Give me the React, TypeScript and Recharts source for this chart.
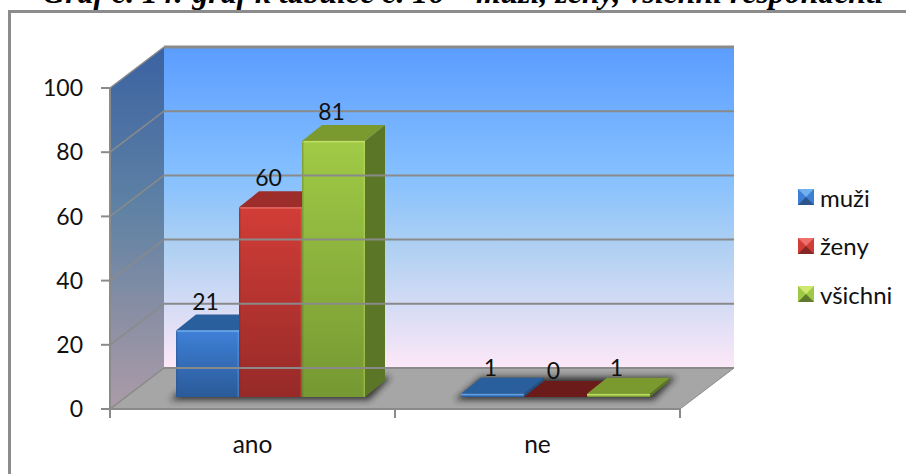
import { Bar, BarChart, LabelList, Legend, ReferenceArea, ReferenceLine, XAxis, YAxis } from "recharts";

const categories = ["ano", "ne"];
const muzi = [21, 1];
const zeny = [60, 0];
const vsichni = [81, 1];
const yTicks = [0, 20, 40, 60, 80, 100];

const data = categories.map((name, i) => ({ name, muzi: muzi[i], zeny: zeny[i], vsichni: vsichni[i] }));

const FONT = "Lato, sans-serif";
const LINE = "#8a8a8a";

// wall offset of the fake 3d box
const WALL_DX = 54;
const WALL_DY = 41;
// bars sit a bit inside the box
const BAR_DX = 18;
const BAR_DY = 12;
const DEPTH_DX = 20;
const DEPTH_DY = 16;

const palette: Record<string, { light: string; front: string; top: string; side: string; dark: string; grad: string }> = {
  muzi: { light: "#6fb0ee", front: "#3d7fd6", top: "#2a5f9e", side: "#234f85", dark: "#2c558c", grad: "gMuzi" },
  zeny: { light: "#ef6f6a", front: "#d03c36", top: "#9c2d2a", side: "#7c2321", dark: "#852825", grad: "gZeny" },
  vsichni: { light: "#cfe870", front: "#9fc845", top: "#7a9a30", side: "#5a7626", dark: "#5f7a2c", grad: "gVsichni" },
};

function Bar3D(props: any) {
  const { x, y, width, height, dataKey, value } = props;
  const c = palette[dataKey];
  const h = height * 0.985;
  const left = x + BAR_DX;
  const bottom = y + height - BAR_DY;
  const top = bottom - h;
  const right = left + width;
  const flat = value === 0;
  return (
    <g>
      <path
        d={`M${right},${bottom}L${right + DEPTH_DX},${bottom - DEPTH_DY}L${right + DEPTH_DX},${top - DEPTH_DY}L${right},${top}Z`}
        fill={c.side}
      />
      <path
        d={`M${left},${top}L${left + DEPTH_DX},${top - DEPTH_DY}L${right + DEPTH_DX},${top - DEPTH_DY}L${right},${top}Z`}
        fill={flat ? "#6b1c1a" : c.top}
      />
      {!flat && <rect x={left} y={top} width={width} height={h} rx={1} fill={`url(#${c.grad})`} />}
      {!flat && <rect x={left} y={top} width={width} height={1.5} fill={c.light} opacity={0.7} />}
      {!flat && h > 10 && <rect x={left} y={top} width={1.5} height={h} fill={c.dark} opacity={0.45} />}
      {!flat && h > 10 && <rect x={right - 1.5} y={top} width={1.5} height={h} fill={c.light} opacity={0.35} />}
    </g>
  );
}

function BarLabel(props: any) {
  const { x, y, width, height, value } = props;
  const bottom = y + height - BAR_DY;
  const top = bottom - height * 0.985;
  const small = value < 5;
  return (
    <text
      x={x + BAR_DX + width / 2 - 2}
      y={top - (small ? 27 : 30)}
      textAnchor="middle"
      dominantBaseline="central"
      fontFamily={FONT}
      fontSize={23}
      fill="#111"
    >
      {value}
    </text>
  );
}

function Walls(props: any) {
  const { x, y, width, height } = props;
  const r = x + width;
  const b = y + height;
  return (
    <g>
      <path d={`M${x},${y}L${x + WALL_DX},${y - WALL_DY}L${x + WALL_DX},${b - WALL_DY}L${x},${b}Z`} fill="url(#gLeftWall)" />
      <rect x={x + WALL_DX} y={y - WALL_DY} width={width} height={height} fill="url(#gBackWall)" />
      <path d={`M${x},${b}L${r},${b}L${r + WALL_DX},${b - WALL_DY}L${x + WALL_DX},${b - WALL_DY}Z`} fill="#a6a6a6" stroke={LINE} strokeWidth={1} />
    </g>
  );
}

// soft shadow on the floor and the axis ticks at the band edges
function CategoryBand(props: any) {
  const { x, y, width, height } = props;
  const b = y + height;
  const l = x + 66;
  const r = x + width - 30;
  return (
    <g>
      <path
        d={`M${l - 6},${b - 9}L${l + 20},${b - 32}L${r + 26},${b - 32}L${r + 4},${b - 9}Z`}
        fill="#222"
        opacity={0.85}
        filter="url(#floorBlur)"
      />
      <line x1={x} y1={b} x2={x} y2={b + 9} stroke={LINE} strokeWidth={2} />
      <line x1={x + width} y1={b} x2={x + width} y2={b + 9} stroke={LINE} strokeWidth={2} />
    </g>
  );
}

function GridLine(props: any) {
  const { x1, x2, y1 } = props;
  const yb = y1 - WALL_DY;
  return (
    <g>
      <line x1={x1} y1={y1} x2={x1 + WALL_DX} y2={yb} stroke={LINE} strokeWidth={1.5} />
      <line x1={x1 + WALL_DX} y1={yb} x2={x2 + WALL_DX} y2={yb} stroke={LINE} strokeWidth={yb < 60 ? 3 : 2} />
    </g>
  );
}

function LegendSwatch({ dataKey }: { dataKey: string }) {
  const c = palette[dataKey];
  return (
    <svg width={16} height={16} style={{ display: "block", flex: "none" }}>
      <rect width={16} height={16} fill={c.front} />
      <path d="M0,0L16,0L8,8Z" fill={c.light} />
      <path d="M0,16L16,16L8,8Z" fill={c.dark} />
    </svg>
  );
}

function LegendBox({ payload }: any) {
  return (
    <div style={{ fontFamily: FONT, fontSize: 24, color: "#111" }}>
      {(payload ?? []).map((item: any) => (
        <div key={item.dataKey} style={{ display: "flex", alignItems: "center", gap: 6, height: 48.5 }}>
          <LegendSwatch dataKey={item.dataKey} />
          <span>{item.value}</span>
        </div>
      ))}
    </div>
  );
}

export default function App() {
  return (
    <div style={{ position: "absolute", left: 0, top: 0, width: 906, height: 474, overflow: "hidden", background: "#fff" }}>
      <div
        style={{
          position: "absolute",
          left: 0,
          width: 926,
          top: -25,
          textAlign: "center",
          fontFamily: "'Liberation Serif', serif",
          fontWeight: "bold",
          fontStyle: "italic",
          fontSize: 31.8,
          lineHeight: "36px",
          whiteSpace: "nowrap",
          color: "#000",
        }}
      >
        Graf č. 14: graf k tabulce č. 16 – muži, ženy, všichni respondenti
      </div>
      <div
        style={{
          position: "absolute",
          left: 8,
          top: 10,
          width: 898,
          height: 464,
          boxSizing: "border-box",
          borderLeft: "3px solid #8c8c8c",
          borderTop: "3px solid #8c8c8c",
        }}
      />
      <BarChart
        width={906}
        height={474}
        data={data}
        margin={{ top: 88, right: 226, bottom: 25, left: 60 }}
        barSize={63}
        barGap={0}
        style={{ position: "absolute", left: 0, top: 0 }}
      >
        <defs>
          <linearGradient id="gBackWall" x1="0" y1="0" x2="0" y2="1">
            <stop offset="0" stopColor="#5b9dff" />
            <stop offset="0.4" stopColor="#85c0ff" />
            <stop offset="0.62" stopColor="#aed0f2" />
            <stop offset="1" stopColor="#fde8f8" />
          </linearGradient>
          <linearGradient id="gLeftWall" x1="0" y1="0" x2="0" y2="1">
            <stop offset="0" stopColor="#3b62a2" />
            <stop offset="0.45" stopColor="#5f82a4" />
            <stop offset="0.75" stopColor="#8b8fa4" />
            <stop offset="1" stopColor="#ab9ca8" />
          </linearGradient>
          <linearGradient id="gMuzi" x1="0" y1="0" x2="0" y2="1">
            <stop offset="0" stopColor="#3f80d8" />
            <stop offset="1" stopColor="#2a5a98" />
          </linearGradient>
          <linearGradient id="gZeny" x1="0" y1="0" x2="0" y2="1">
            <stop offset="0" stopColor="#d23d37" />
            <stop offset="1" stopColor="#962a28" />
          </linearGradient>
          <linearGradient id="gVsichni" x1="0" y1="0" x2="0" y2="1">
            <stop offset="0" stopColor="#a0ca46" />
            <stop offset="1" stopColor="#769832" />
          </linearGradient>
          <filter id="floorBlur" x="-10%" y="-50%" width="120%" height="200%">
            <feGaussianBlur stdDeviation="3" />
          </filter>
        </defs>
        <ReferenceArea y1={0} y2={100} shape={<Walls />} />
        {yTicks.map((t) => (
          <ReferenceLine key={t} y={t} shape={<GridLine />} />
        ))}
        <ReferenceArea x1="ano" x2="ano" y1={0} y2={100} shape={<CategoryBand />} />
        <ReferenceArea x1="ne" x2="ne" y1={0} y2={100} shape={<CategoryBand />} />
        <XAxis
          dataKey="name"
          stroke={LINE}
          strokeWidth={2}
          height={40}
          tickLine={false}
          tickMargin={21}
          tick={{ fill: "#111", fontSize: 24.5, fontFamily: FONT }}
        />
        <YAxis
          domain={[0, 100]}
          ticks={yTicks}
          width={50}
          stroke={LINE}
          strokeWidth={2}
          tickSize={9}
          tickMargin={18}
          tick={{ fill: "#111", fontSize: 23, fontFamily: FONT }}
        />
        <Legend
          layout="vertical"
          align="center"
          verticalAlign="middle"
          itemSorter={null as any}
          content={<LegendBox />}
          wrapperStyle={{ left: 798, top: 173, width: 108, right: "auto", bottom: "auto", margin: 0 }}
        />
        <Bar dataKey="muzi" name="muži" fill="#3d7fd6" shape={<Bar3D />} isAnimationActive={false}>
          <LabelList dataKey="muzi" content={<BarLabel />} />
        </Bar>
        <Bar dataKey="zeny" name="ženy" fill="#d03c36" shape={<Bar3D />} isAnimationActive={false}>
          <LabelList dataKey="zeny" content={<BarLabel />} />
        </Bar>
        <Bar dataKey="vsichni" name="všichni" fill="#9fc845" shape={<Bar3D />} isAnimationActive={false}>
          <LabelList dataKey="vsichni" content={<BarLabel />} />
        </Bar>
      </BarChart>
    </div>
  );
}
